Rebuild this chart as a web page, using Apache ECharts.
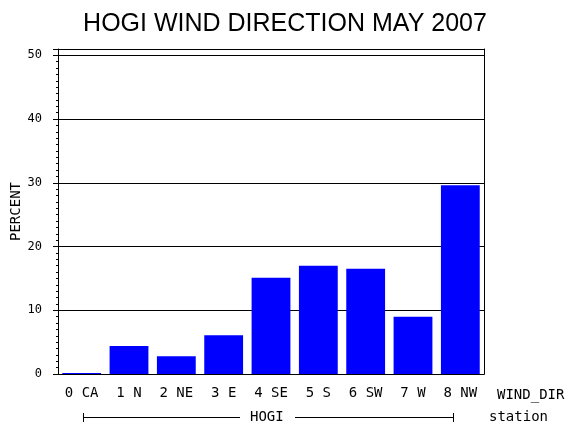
<!DOCTYPE html>
<html>
<head>
<meta charset="utf-8">
<script src="https://cdn.jsdelivr.net/npm/echarts@6/dist/echarts.min.js"></script>
<style>
  html, body { margin: 0; padding: 0; background: #fff; }
  #chart { width: 570px; height: 430px; }
</style>
</head>
<body>
<div id="chart"></div>
<script>
// categories and values
var windDirs = ['0 CA', '1 N', '2 NE', '3 E', '4 SE', '5 S', '6 SW', '7 W', '8 NW'];
var percents = [0.15, 4.4, 2.8, 6.1, 15.1, 17.0, 16.5, 9.0, 29.6];
var yTicks = [0, 10, 20, 30, 40, 50];

var chart = echarts.init(document.getElementById('chart'), null, {renderer: 'canvas'});

var monoFont = '"DejaVu Sans Mono", monospace';

var option = {
    backgroundColor: '#fff',
    animation: false,
    title: {
        text: 'HOGI WIND DIRECTION MAY 2007',
        left: 'center',
        top: 7,
        textStyle: {
            fontFamily: '"Liberation Sans", Arial, sans-serif',
            fontSize: 25,
            fontWeight: 'normal',
            color: '#000'
        }
    },
    grid: {
        left: 58,
        right: 86,
        top: 49,
        bottom: 56,
        show: false,
        containLabel: false,
        outerBoundsMode: 'none'
    },
    xAxis: [
        {
            type: 'category',
            data: windDirs,
            axisLine: {lineStyle: {color: '#000', width: 1}},
            axisTick: {show: false},
            axisLabel: {
                color: '#000',
                fontFamily: monoFont,
                fontSize: 14,
                margin: 12
            }
        },
        {
            // top edge of the frame
            type: 'category',
            position: 'top',
            data: windDirs,
            axisLine: {lineStyle: {color: '#000', width: 1}},
            axisTick: {show: false},
            axisLabel: {show: false}
        }
    ],
    yAxis: [
        {
            // major ticks, labels and grid lines
            type: 'value',
            position: 'left',
            min: 0,
            max: 51,
            interval: 10,
            name: 'PERCENT',
            nameLocation: 'middle',
            nameGap: 35,
            nameMoveOverlap: false,
            nameRotate: 90,
            nameTextStyle: {
                color: '#000',
                fontFamily: monoFont,
                fontSize: 14
            },
            axisLine: {show: true, lineStyle: {color: '#000', width: 1}},
            axisTick: {show: true, length: 5, lineStyle: {color: '#000'}},
            axisLabel: {
                color: '#000',
                fontFamily: monoFont,
                fontSize: 12,
                margin: 16,
                formatter: function (v) {
                    return yTicks.indexOf(v) >= 0 ? String(v) : '';
                }
            },
            splitLine: {show: true, lineStyle: {color: '#000', width: 1}}
        },
        {
            // minor ticks every 1 percent
            type: 'value',
            position: 'left',
            offset: 0,
            min: 0,
            max: 51,
            interval: 1,
            axisLine: {show: false},
            axisTick: {show: true, length: 2, lineStyle: {color: '#000'}},
            axisLabel: {show: false},
            splitLine: {show: false}
        },
        {
            // right edge of the frame
            type: 'value',
            position: 'right',
            min: 0,
            max: 51,
            axisLine: {show: true, lineStyle: {color: '#000', width: 1}},
            axisTick: {show: false},
            axisLabel: {show: false},
            splitLine: {show: false}
        }
    ],
    graphic: [
        {type: 'text', left: 497, top: 388, style: {text: 'WIND_DIR', font: '14px ' + monoFont, fill: '#000'}},
        {type: 'text', left: 489, top: 410, style: {text: 'station', font: '14px ' + monoFont, fill: '#000'}},
        {type: 'text', left: 250, top: 410, style: {text: 'HOGI', font: '14px ' + monoFont, fill: '#000'}},
        // bracket under the categories
        {type: 'line', shape: {x1: 83, y1: 417.5, x2: 240, y2: 417.5}, style: {stroke: '#000', lineWidth: 1}},
        {type: 'line', shape: {x1: 295, y1: 417.5, x2: 454, y2: 417.5}, style: {stroke: '#000', lineWidth: 1}},
        {type: 'line', shape: {x1: 83.5, y1: 413, x2: 83.5, y2: 422}, style: {stroke: '#000', lineWidth: 1}},
        {type: 'line', shape: {x1: 453.5, y1: 413, x2: 453.5, y2: 422}, style: {stroke: '#000', lineWidth: 1}}
    ],
    series: [
        {
            type: 'bar',
            xAxisIndex: 0,
            yAxisIndex: 0,
            data: percents,
            barCategoryGap: '18%',
            itemStyle: {color: '#0000ff'}
        }
    ]
};

chart.setOption(option);
</script>
</body>
</html>
